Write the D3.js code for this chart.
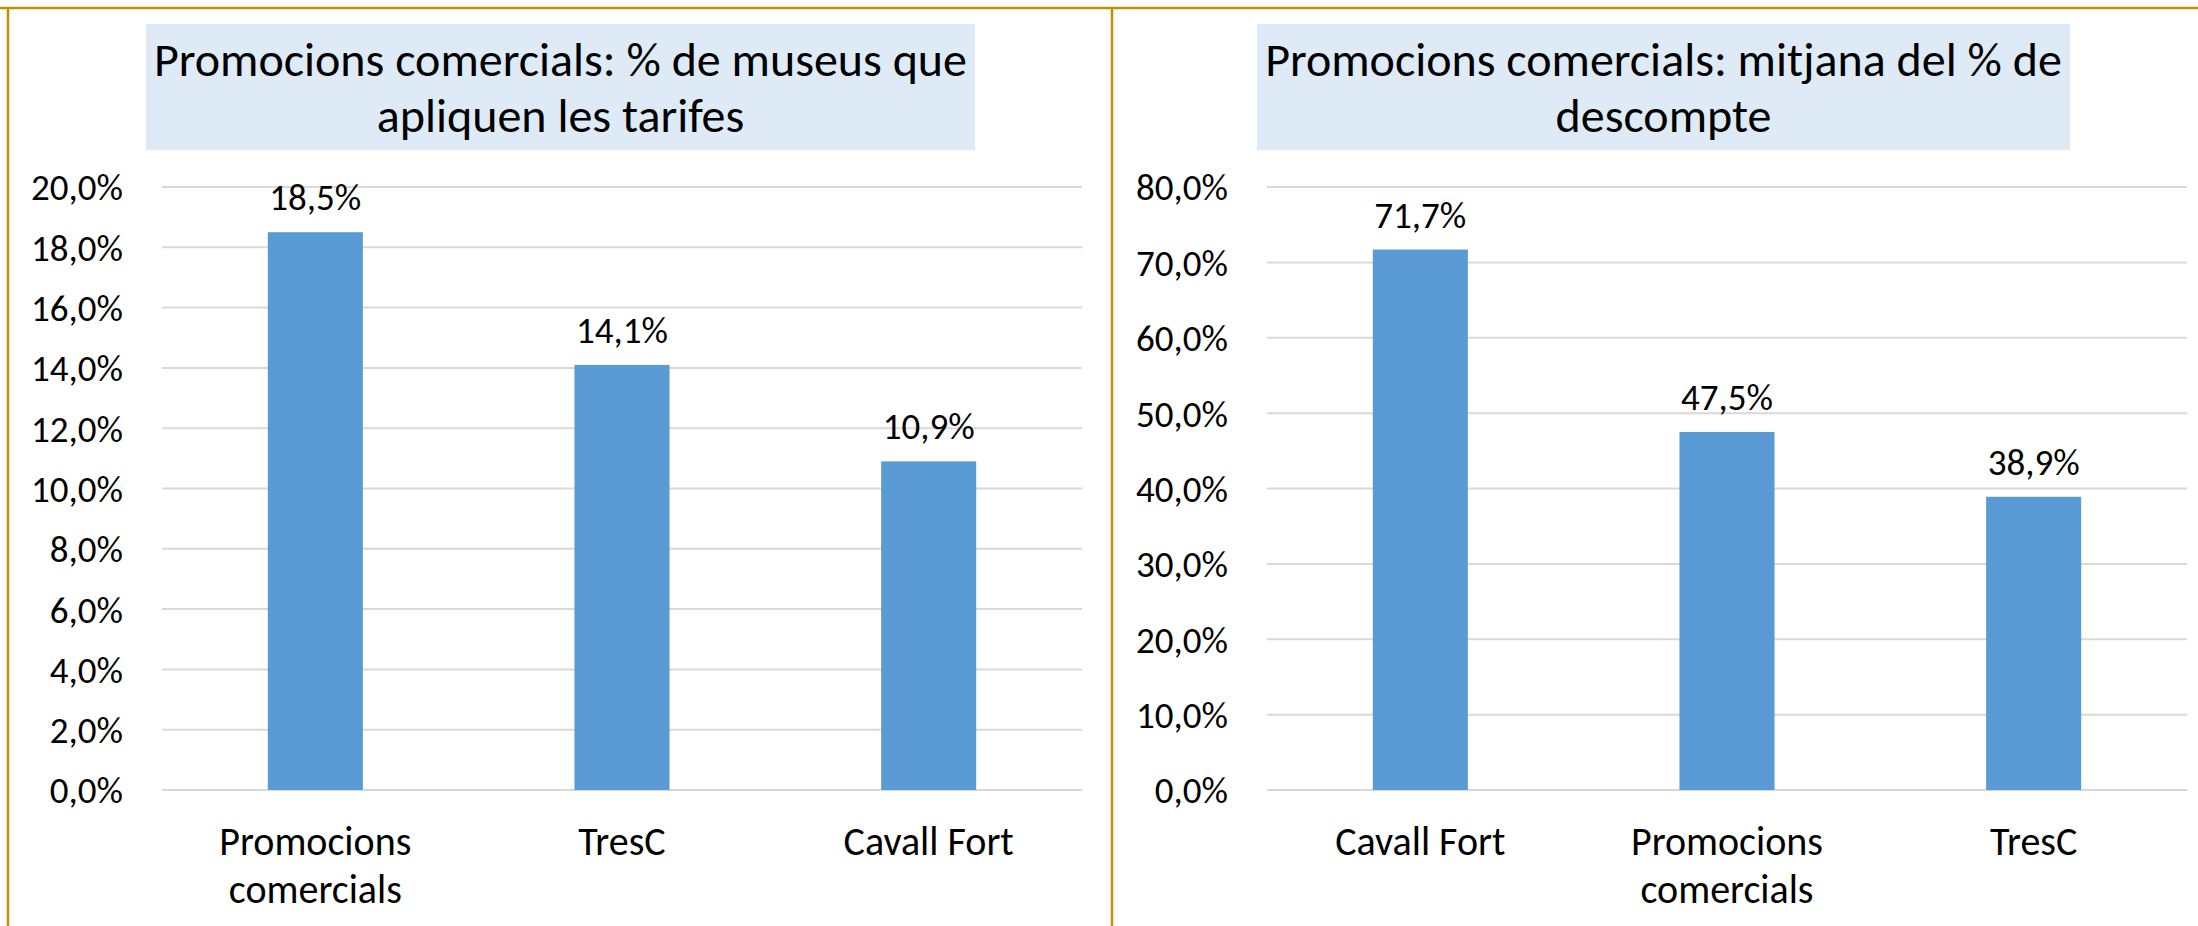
<!DOCTYPE html>
<html>
<head>
<meta charset="utf-8">
<script src="https://cdn.jsdelivr.net/npm/d3@7"></script>
<style>
    body { margin: 0; background: #fff; }
    svg text { font-family: Carlito, Calibri, Lato, sans-serif; fill: #000; }
</style>
</head>
<body>
<div id="chart"></div>
<script>
// chart data
const leftTitle = ["Promocions comercials: % de museus que", "apliquen les tarifes"];
const leftCategories = ["Promocions comercials", "TresC", "Cavall Fort"];
const leftLabelLines = [["Promocions", "comercials"], ["TresC"], ["Cavall Fort"]];
const leftValues = [18.5, 14.1, 10.9];
const leftTicks = [0, 2, 4, 6, 8, 10, 12, 14, 16, 18, 20];

const rightTitle = ["Promocions comercials: mitjana del % de", "descompte"];
const rightCategories = ["Cavall Fort", "Promocions comercials", "TresC"];
const rightLabelLines = [["Cavall Fort"], ["Promocions", "comercials"], ["TresC"]];
const rightValues = [71.7, 47.5, 38.9];
const rightTicks = [0, 10, 20, 30, 40, 50, 60, 70, 80];

const width = 2198;
const height = 926;

const locale = d3.formatLocale({decimal: ",", thousands: ".", grouping: [3], currency: ["", "€"]});
const pct = function (v) { return locale.format(".1f")(v) + "%"; };

const svg = d3.select("#chart")
              .append("svg")
              .attr("width", width)
              .attr("height", height);

// outer frames
const frameColor = "#BF9000";
svg.append("line").attr("x1", 0).attr("x2", width).attr("y1", 8).attr("y2", 8)
   .attr("stroke", frameColor).attr("stroke-width", 2.5);
svg.append("line").attr("x1", 8).attr("x2", 8).attr("y1", 8).attr("y2", height)
   .attr("stroke", frameColor).attr("stroke-width", 2.5);
svg.append("line").attr("x1", 1112).attr("x2", 1112).attr("y1", 8).attr("y2", height)
   .attr("stroke", frameColor).attr("stroke-width", 2.5);

function drawPanel(opts) {
    const g = svg.append("g");

    // title box
    g.append("rect")
     .attr("x", opts.boxX0)
     .attr("y", 24)
     .attr("width", opts.boxX1 - opts.boxX0)
     .attr("height", 126)
     .attr("fill", "#DEEAF6");
    g.selectAll("text.title")
     .data(opts.title)
     .enter()
     .append("text")
     .attr("class", "title")
     .attr("x", (opts.boxX0 + opts.boxX1) / 2)
     .attr("y", function (d, i) { return 76 + i * 56; })
     .style("text-anchor", "middle")
     .style("font-size", "48px")
     .text(function (d) { return d; });

    const x = d3.scaleBand()
                .domain(opts.categories)
                .range([opts.plotX0, opts.plotX1])
                .paddingInner(0.69)
                .paddingOuter(0.345);

    const y = d3.scaleLinear()
                .domain([0, d3.max(opts.ticks)])
                .range([790, 187]);

    // gridlines
    g.append("g")
     .selectAll("line")
     .data(opts.ticks)
     .enter()
     .append("line")
     .attr("x1", opts.plotX0)
     .attr("x2", opts.plotX1)
     .attr("y1", function (d) { return y(d); })
     .attr("y2", function (d) { return y(d); })
     .attr("stroke", "#D9D9D9")
     .attr("stroke-width", 2);

    // y axis
    const yAxis = g.append("g")
                   .attr("transform", "translate(" + (opts.plotX0 - 39) + ",0)")
                   .call(d3.axisLeft(y).tickValues(opts.ticks).tickFormat(pct).tickSize(0).tickPadding(0));
    yAxis.select(".domain").remove();
    yAxis.selectAll("text")
         .style("font-size", "37px")
         .attr("dy", "0.35em");

    // bars
    g.append("g")
     .selectAll("rect")
     .data(opts.values)
     .enter()
     .append("rect")
     .attr("x", function (d, i) { return x(opts.categories[i]); })
     .attr("y", function (d) { return y(d); })
     .attr("width", x.bandwidth())
     .attr("height", function (d) { return y(0) - y(d); })
     .attr("fill", "#5B9BD5");

    // value labels
    g.append("g")
     .selectAll("text")
     .data(opts.values)
     .enter()
     .append("text")
     .attr("x", function (d, i) { return x(opts.categories[i]) + x.bandwidth() / 2; })
     .attr("y", function (d) { return y(d) - 22; })
     .style("text-anchor", "middle")
     .style("font-size", "37px")
     .text(pct);

    // x axis labels
    const xl = g.append("g")
                .selectAll("text")
                .data(opts.categories)
                .enter()
                .append("text")
                .attr("x", function (d) { return x(d) + x.bandwidth() / 2; })
                .attr("y", 855)
                .style("text-anchor", "middle")
                .style("font-size", "40px");
    xl.selectAll("tspan")
      .data(function (d, i) { return opts.labelLines[i]; })
      .enter()
      .append("tspan")
      .attr("x", function () { return d3.select(this.parentNode).attr("x"); })
      .attr("dy", function (d, i) { return i === 0 ? 0 : 48; })
      .text(function (d) { return d; });
}

drawPanel({
    title: leftTitle, categories: leftCategories, labelLines: leftLabelLines,
    values: leftValues, ticks: leftTicks,
    boxX0: 146, boxX1: 975, plotX0: 162, plotX1: 1082
});

drawPanel({
    title: rightTitle, categories: rightCategories, labelLines: rightLabelLines,
    values: rightValues, ticks: rightTicks,
    boxX0: 1257, boxX1: 2070, plotX0: 1267, plotX1: 2187
});
</script>
</body>
</html>
